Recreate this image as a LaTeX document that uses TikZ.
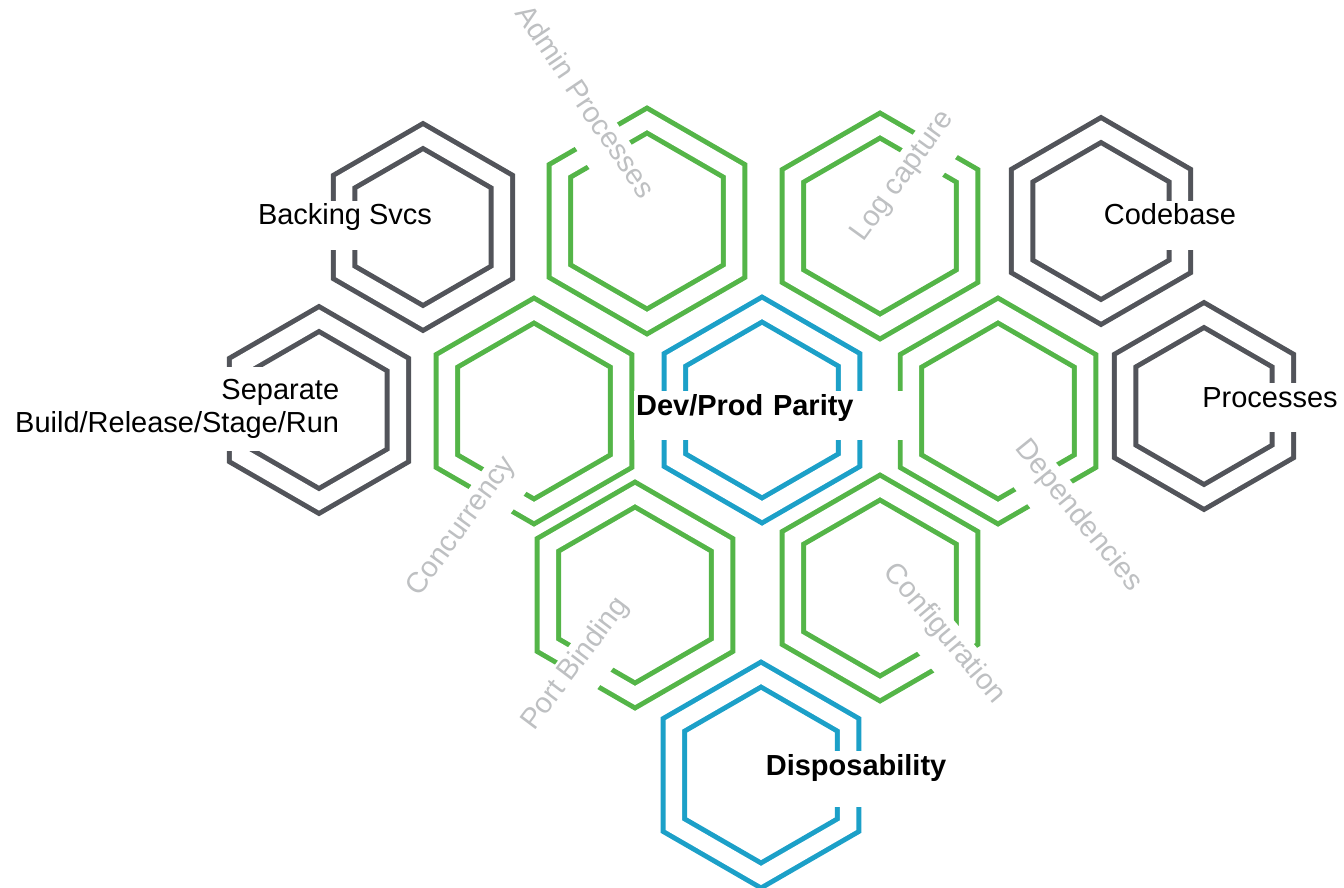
\documentclass[tikz,border=0pt]{standalone}
\usepackage{fontspec}
\setmainfont{Liberation Sans}
\usetikzlibrary{shapes.geometric}
\definecolor{hexgreen}{RGB}{84,181,72}
\definecolor{hexblue}{RGB}{28,160,200}
\definecolor{hexgray}{RGB}{82,84,90}
\definecolor{labelgray}{RGB}{190,192,194}
\newcommand{\hexfont}{\fontsize{16.5}{18.5}\selectfont}

\begin{document}
\begin{tikzpicture}[x=0.02cm,y=-0.02cm,
  hex/.style={regular polygon,regular polygon sides=6,rotate=30,inner sep=0pt,
    draw,line width=0.1cm,double=white,double distance=0.33cm},
  big/.style={hex,minimum size=4.02cm},
  small/.style={hex,minimum size=3.64cm},
  labelbase/.style={fill=white,inner sep=2pt,font=\hexfont},
  lbl/.style={labelbase,inner ysep=0pt,text height=13.5pt,text depth=14pt},
  factor/.style={lbl,text=labelgray}]
\useasboundingbox (0,0) rectangle (1344,888);

% honeycomb
\node[big,draw=hexgreen] (admin) at (647,221) {};
\node[big,draw=hexgreen] (log) at (880,226) {};
\node[big,draw=hexgreen] (concurrency) at (534,411) {};
\node[big,draw=hexblue] (parity) at (762,410) {};
\node[big,draw=hexgreen] (dependencies) at (998,411) {};
\node[big,draw=hexgreen] (port) at (635,595) {};
\node[big,draw=hexgreen] (config) at (880,588) {};
\node[big,draw=hexblue] (dispose) at (761,775) {};

% outer ones
\node[small,draw=hexgray] (backing) at (423,227) {};
\node[small,draw=hexgray] (codebase) at (1101,221) {};
\node[small,draw=hexgray] (separate) at (319,410) {};
\node[small,draw=hexgray] (processes) at (1204,406) {};

% labels
\node[lbl,anchor=base] (backing-l) at (345,225) {Backing Svcs};
\node[lbl,anchor=base] (codebase-l) at (1170,225) {Codebase};
\node[lbl,anchor=base] (processes-l) at (1270,407) {Processes};
\node[labelbase,align=right,anchor=east,inner ysep=7pt] (separate-l) at (343,409)
  {Separate\\Build/Release/Stage/Run};
\node[lbl,anchor=base west,font=\hexfont\bfseries,text width=160pt,align=left,
  inner xsep=1pt] (parity-l) at (634,415) {Dev/Prod Parity};
\node[lbl,anchor=base west,font=\hexfont\bfseries,text depth=18pt] (dispose-l)
  at (762,775) {Disposability};

\node[factor,rotate=-56] (admin-l) at (577,107) {Admin Processes};
\node[factor,rotate=54] (log-l) at (909,181) {Log capture};
\node[factor,rotate=54] (concurrency-l) at (468,531) {Concurrency};
\node[factor,rotate=53] (port-l) at (582,669) {Port Binding};
\node[factor,rotate=-51] (dependencies-l) at (1072,521) {Dependencies};
\node[factor,rotate=-50] (config-l) at (938,639) {Configuration};
\end{tikzpicture}
\end{document}
